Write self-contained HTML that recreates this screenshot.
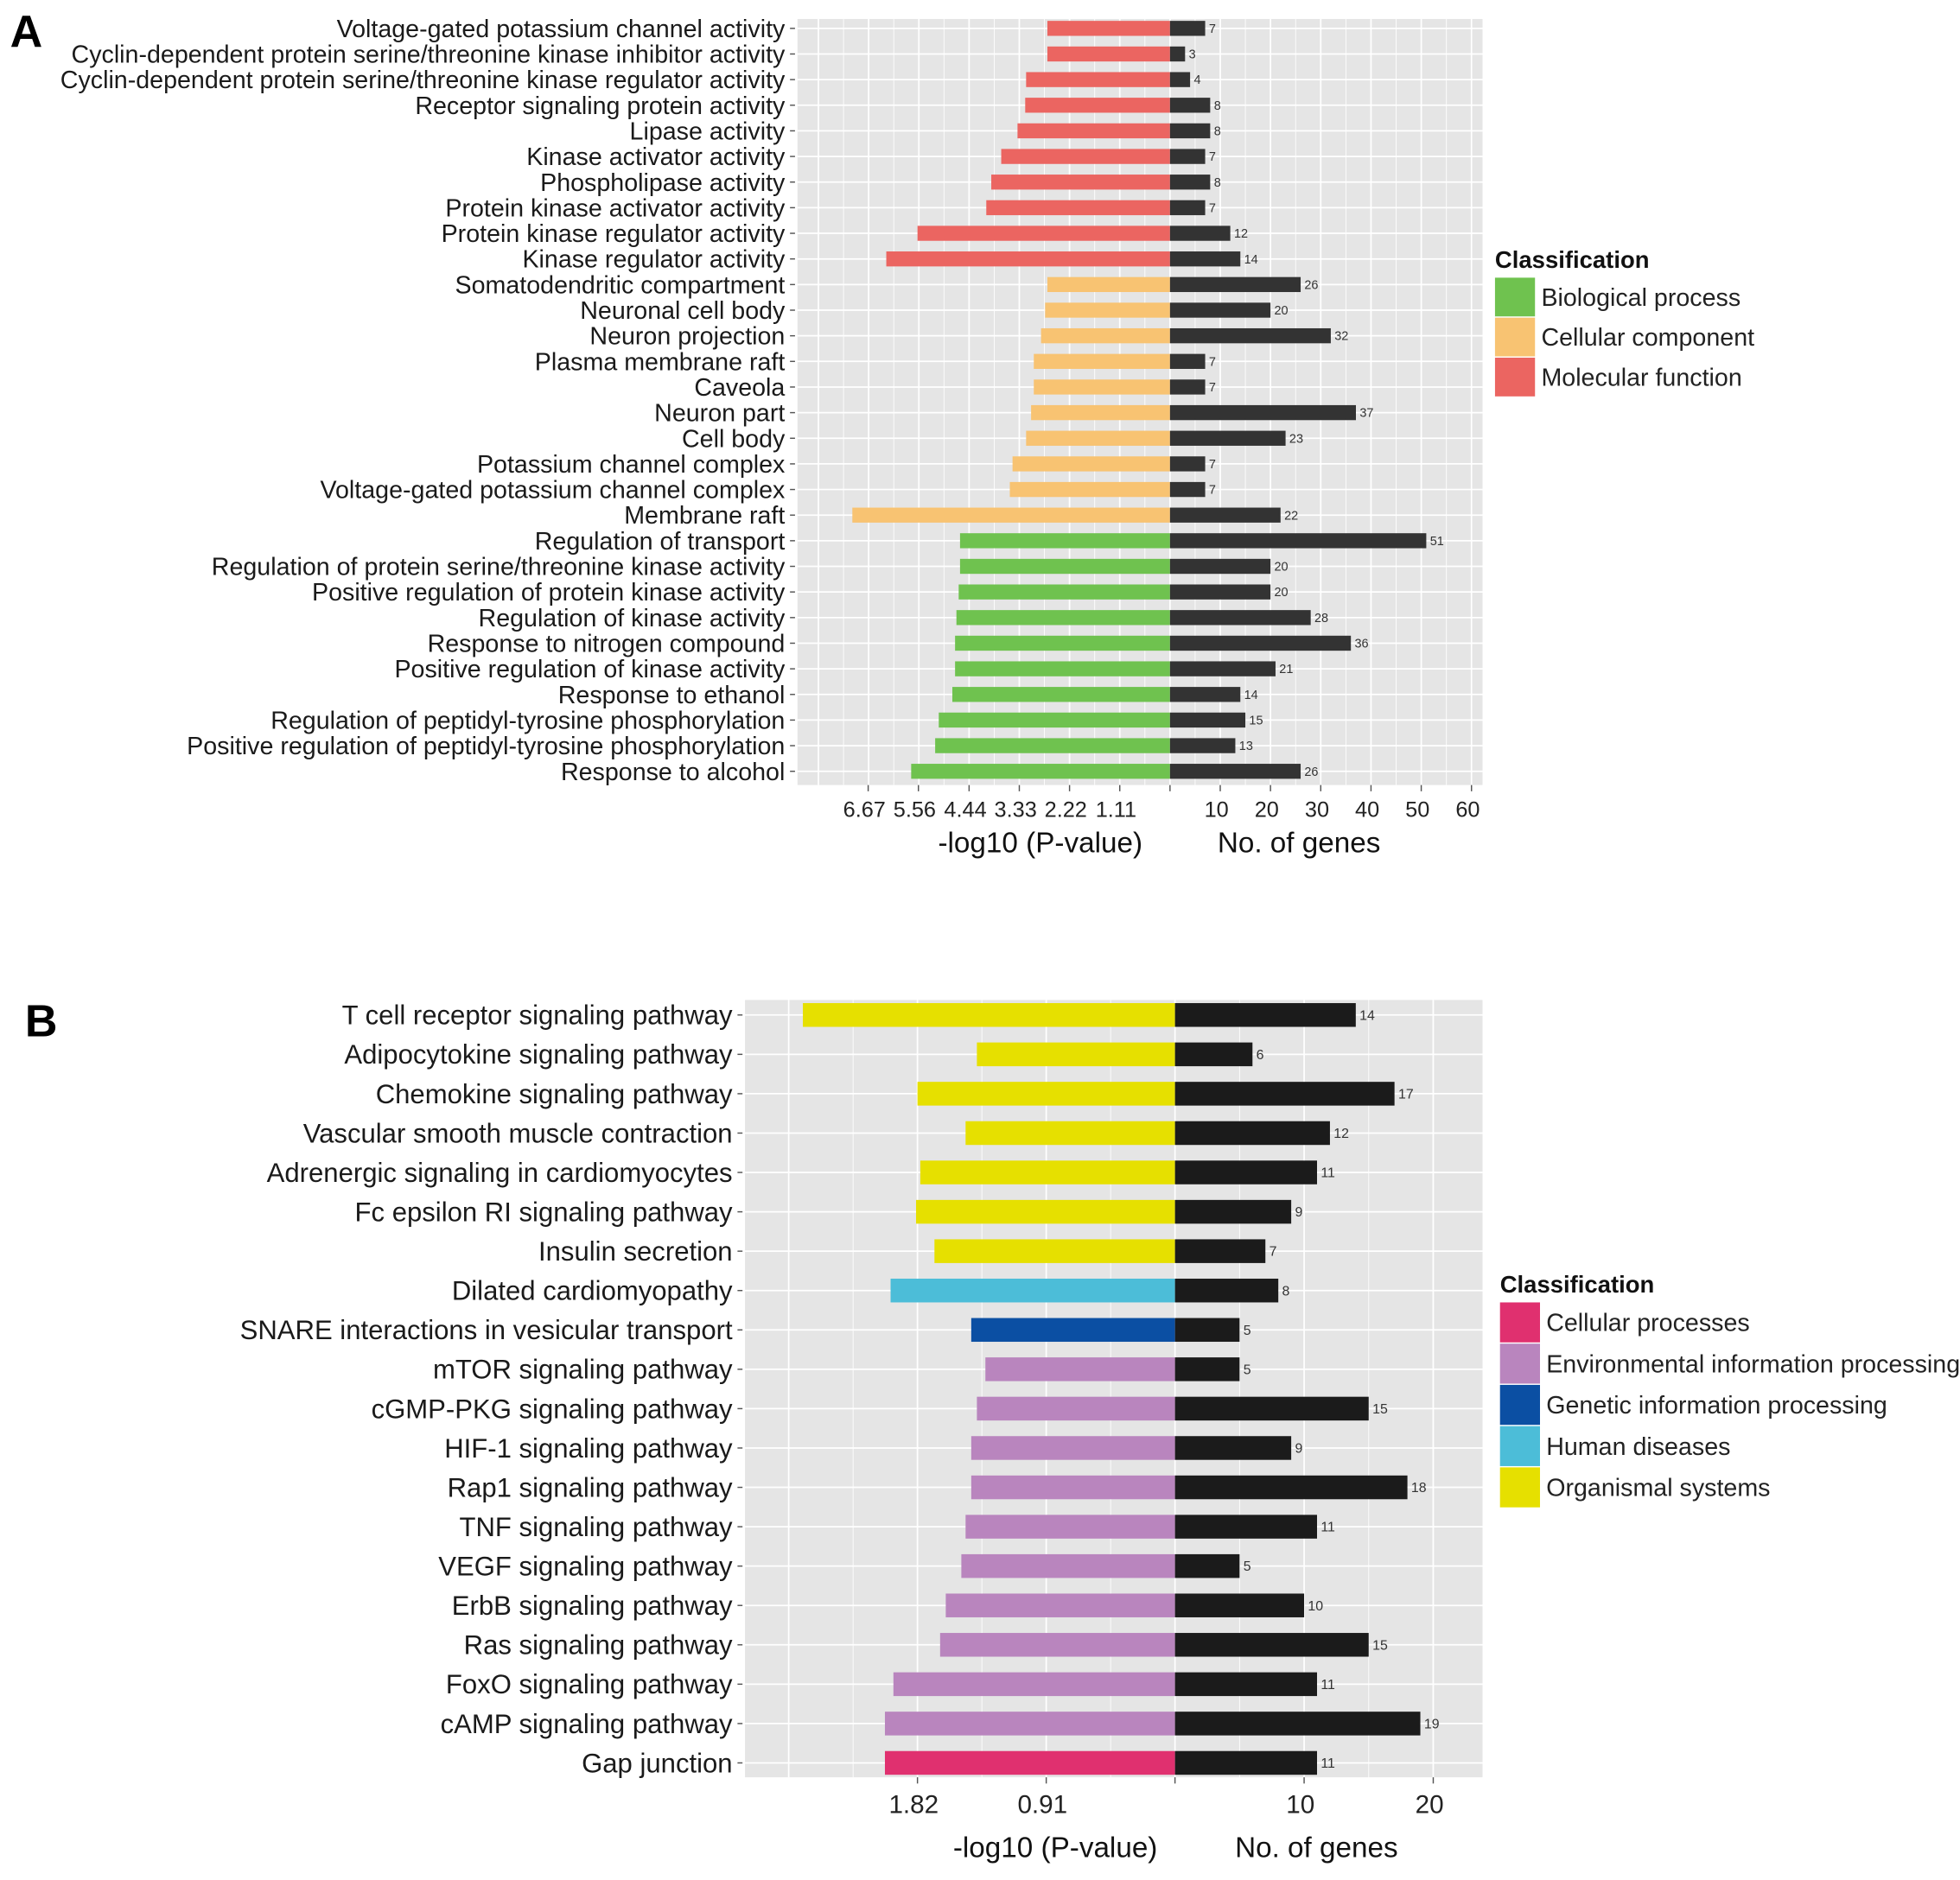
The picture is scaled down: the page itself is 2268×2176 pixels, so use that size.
<!DOCTYPE html>
<html><head><meta charset="utf-8"><style>
html,body{margin:0;padding:0;background:#fff}
svg{display:block;font-family:"Liberation Sans",Arial,sans-serif}
</style></head><body>
<svg id="chart" width="2268" height="2176" viewBox="0 0 1568 1504" xmlns="http://www.w3.org/2000/svg">
<text x="8" y="37" font-size="36" font-weight="bold">A</text>
<text x="20" y="829" font-size="36" font-weight="bold">B</text>
<g id="pa"></g>
<g id="pb"></g>
</svg>
<script>
const aTerms=["Voltage-gated potassium channel activity","Cyclin-dependent protein serine/threonine kinase inhibitor activity","Cyclin-dependent protein serine/threonine kinase regulator activity","Receptor signaling protein activity","Lipase activity","Kinase activator activity","Phospholipase activity","Protein kinase activator activity","Protein kinase regulator activity","Kinase regulator activity","Somatodendritic compartment","Neuronal cell body","Neuron projection","Plasma membrane raft","Caveola","Neuron part","Cell body","Potassium channel complex","Voltage-gated potassium channel complex","Membrane raft","Regulation of transport","Regulation of protein serine/threonine kinase activity","Positive regulation of protein kinase activity","Regulation of kinase activity","Response to nitrogen compound","Positive regulation of kinase activity","Response to ethanol","Regulation of peptidyl-tyrosine phosphorylation","Positive regulation of peptidyl-tyrosine phosphorylation","Response to alcohol"];
const aPval=[2.71,2.71,3.18,3.2,3.37,3.73,3.95,4.06,5.58,6.27,2.71,2.76,2.85,3.01,3.01,3.07,3.18,3.48,3.54,7.02,4.64,4.64,4.67,4.72,4.75,4.75,4.81,5.11,5.19,5.72];
const aGenes=[7,3,4,8,8,7,8,7,12,14,26,20,32,7,7,37,23,7,7,22,51,20,20,28,36,21,14,15,13,26];
const aClass=["MF","MF","MF","MF","MF","MF","MF","MF","MF","MF","CC","CC","CC","CC","CC","CC","CC","CC","CC","CC","BP","BP","BP","BP","BP","BP","BP","BP","BP","BP"];
const aLegend=["Biological process","Cellular component","Molecular function"];
const aLeftTicks=[1.11,2.22,3.33,4.44,5.56,6.67];
const aRightTicks=[10,20,30,40,50,60];

const bTerms=["T cell receptor signaling pathway","Adipocytokine signaling pathway","Chemokine signaling pathway","Vascular smooth muscle contraction","Adrenergic signaling in cardiomyocytes","Fc epsilon RI signaling pathway","Insulin secretion","Dilated cardiomyopathy","SNARE interactions in vesicular transport","mTOR signaling pathway","cGMP-PKG signaling pathway","HIF-1 signaling pathway","Rap1 signaling pathway","TNF signaling pathway","VEGF signaling pathway","ErbB signaling pathway","Ras signaling pathway","FoxO signaling pathway","cAMP signaling pathway","Gap junction"];
const bPval=[2.63,1.40,1.82,1.48,1.80,1.83,1.70,2.01,1.44,1.34,1.40,1.44,1.44,1.48,1.51,1.62,1.66,1.99,2.05,2.05];
const bGenes=[14,6,17,12,11,9,7,8,5,5,15,9,18,11,5,10,15,11,19,11];
const bClass=["OS","OS","OS","OS","OS","OS","OS","HD","GIP","EIP","EIP","EIP","EIP","EIP","EIP","EIP","EIP","EIP","EIP","CP"];
const bLegend=["Cellular processes","Environmental information processing","Genetic information processing","Human diseases","Organismal systems"];
const bLeftTicks=[0.91,1.82];
const bRightTicks=[10,20];

const NS="http://www.w3.org/2000/svg";
function mk(parent,tag,attrs,text){const e=document.createElementNS(NS,tag);for(const k in attrs)e.setAttribute(k,attrs[k]);if(text!==undefined)e.textContent=text;parent.appendChild(e);return e;}

function panel(g,cfg){
  const {terms,pval,genes,cls,colors,x0,x1,y0,y1,zero,pxP,pxG,rowTop,rowStep,barH,leftTicks,rightTicks,fs,darkCol,legend,legendColors,lx,ly,lstep,keyH,tickFs,labFs,titleY,nfs,lfs,t1off,t2off}=cfg;
  const xP=v=>zero-v*pxP, xG=v=>zero+v*pxG, yR=i=>rowTop+i*rowStep;
  const bg=mk(g,'rect',{x:x0,y:y0,width:x1-x0,height:y1-y0,fill:'#e5e5e5'});
  
  const step=leftTicks[0];
  for(let v=step/2;xP(v)>x0;v+=step/2){const major=Math.abs(v/step-Math.round(v/step))<0.01;mk(g,'line',{x1:xP(v),x2:xP(v),y1:y0,y2:y1,stroke:'#fff','stroke-width':major?1.2:0.6});}
  const gs=rightTicks[0];
  for(let v=0;xG(v)<x1;v+=gs/2){const major=Math.abs(v/gs-Math.round(v/gs))<0.01;mk(g,'line',{x1:xG(v),x2:xG(v),y1:y0,y2:y1,stroke:'#fff','stroke-width':major?1.2:0.6});}
  terms.forEach((t,i)=>{mk(g,'line',{x1:x0,x2:x1,y1:yR(i),y2:yR(i),stroke:'#fff','stroke-width':1.2});});
  terms.forEach((t,i)=>{
    const y=yR(i);
    const lb=mk(g,'text',{x:x0-10,y:y+fs*0.35,'font-size':fs,'text-anchor':'end',fill:'#1a1a1a'},t);
    
    mk(g,'line',{x1:x0-6,x2:x0-2,y1:y,y2:y,stroke:'#555','stroke-width':1});
    const b=mk(g,'rect',{x:xP(pval[i]),y:y-barH/2,width:zero-xP(pval[i]),height:barH,fill:colors[cls[i]]});
    
    const c=mk(g,'rect',{x:zero,y:y-barH/2,width:xG(genes[i])-zero,height:barH,fill:darkCol});
    
    const n=mk(g,'text',{x:xG(genes[i])+3,y:y+nfs*0.35,'font-size':nfs,fill:'#333'},String(genes[i]));
    
  });
  const ty=y1+tickFs+8;
  [0].concat(leftTicks).forEach(v=>mk(g,'line',{x1:xP(v),x2:xP(v),y1:y1,y2:y1+5,stroke:'#555'}));
  leftTicks.forEach(v=>{const t=mk(g,'text',{x:xP(v)-3,y:ty,'font-size':tickFs,'text-anchor':'middle',fill:'#222'},v.toFixed(2));});
  rightTicks.forEach(v=>{mk(g,'line',{x1:xG(v),x2:xG(v),y1:y1,y2:y1+5,stroke:'#555'});const t=mk(g,'text',{x:xG(v)-3,y:ty,'font-size':tickFs,'text-anchor':'middle',fill:'#222'},String(v));});
  const t1=mk(g,'text',{x:zero-t1off,y:titleY,'font-size':labFs,'text-anchor':'end',fill:'#111'},'-log10 (P-value)');
  
  const t2=mk(g,'text',{x:zero+t2off,y:titleY,'font-size':labFs,fill:'#111'},'No. of genes');
  
  const lt=mk(g,'text',{x:lx,y:ly-8,'font-size':19,'font-weight':'bold',fill:'#111'},'Classification');
  
  legend.forEach((L,i)=>{
    const k=mk(g,'rect',{x:lx,y:ly+i*lstep,width:32,height:keyH,fill:legendColors[i]});
    
    const t=mk(g,'text',{x:lx+37,y:ly+i*lstep+keyH/2+7,'font-size':lfs,fill:'#222'},L);
    
  });
}
const cA={BP:'#6fc24f',CC:'#f8c372',MF:'#eb6561'};
panel(document.getElementById('pa'),{terms:aTerms,pval:aPval,genes:aGenes,cls:aClass,colors:cA,x0:638,x1:1186,y0:15,y1:628,zero:936,pxP:36.2,pxG:4.02,rowTop:22.5,rowStep:20.5,barH:12,leftTicks:aLeftTicks,rightTicks:aRightTicks,fs:19.8,darkCol:'#333333',legend:aLegend,legendColors:[cA.BP,cA.CC,cA.MF],lx:1196,ly:222,lstep:32,keyH:31,tickFs:17.5,labFs:23,titleY:682,nfs:10,lfs:19.8,t1off:22,t2off:38});
const cB={CP:'#e0306f',EIP:'#b985be',GIP:'#0b4fa3',HD:'#4cbdd8',OS:'#e6e000'};
panel(document.getElementById('pb'),{terms:bTerms,pval:bPval,genes:bGenes,cls:bClass,colors:cB,x0:596,x1:1186,y0:800,y1:1422,zero:940,pxP:113.2,pxG:10.33,rowTop:812,rowStep:31.5,barH:19,leftTicks:bLeftTicks,rightTicks:bRightTicks,fs:21.5,darkCol:'#1b1b1b',legend:bLegend,legendColors:[cB.CP,cB.EIP,cB.GIP,cB.HD,cB.OS],lx:1200,ly:1042,lstep:33,keyH:32,tickFs:20.5,labFs:23,titleY:1486,nfs:11,lfs:19.8,t1off:14,t2off:48});
</script>
</body></html>
